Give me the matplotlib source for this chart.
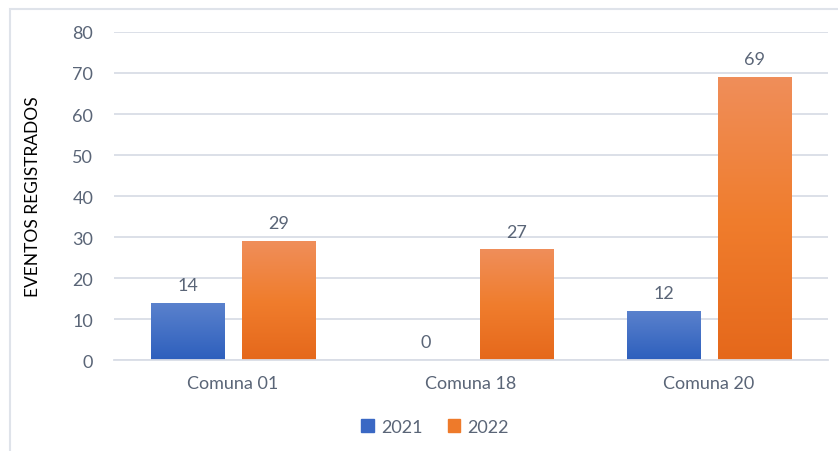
import numpy as np
import matplotlib.pyplot as plt
from matplotlib.colors import LinearSegmentedColormap
from matplotlib.patches import Rectangle

plt.rcParams['font.family'] = ['Lato', 'DejaVu Sans']

categories = ['Comuna 01', 'Comuna 18', 'Comuna 20']
years = ['2021', '2022']
values_2021 = [14, 0, 12]
values_2022 = [29, 27, 69]

grey_text = '#5a6577'
grid_col = '#d9dde6'

fig = plt.figure(figsize=(8.38, 4.52), dpi=100)
ax = fig.add_axes([0.136, 0.2013, 0.852, 0.7257])

# light frame like the office chart area
fig.patches.append(Rectangle((10 / 838, -0.1), 1.2, 1 - 10 / 452 + 0.1,
                             transform=fig.transFigure, fill=False,
                             edgecolor='#dfe3ea', lw=1.5))

x = np.arange(len(categories))
width = 0.307
off = 0.19

blue_cm = LinearSegmentedColormap.from_list('b', ['#2d5fbd', '#5b82cd'])
orange_cm = LinearSegmentedColormap.from_list('o', ['#e5681b', '#f07d2d', '#ef8e5a'])

def grad_bars(xs, vals, cmap, solid, label):
    bars = ax.bar(xs, vals, width, color=solid, label=label, zorder=2)
    grad = np.linspace(0, 1, 256).reshape(-1, 1)
    for b in bars:
        if b.get_height() <= 0:
            continue
        b.set_facecolor('none')
        im = ax.imshow(grad, cmap=cmap, aspect='auto', origin='lower',
                       extent=[b.get_x(), b.get_x() + b.get_width(), 0, b.get_height()],
                       zorder=2)
        im.set_clip_path(b)
    return bars

b1 = grad_bars(x - off, values_2021, blue_cm, '#3a68c4', '2021')
b2 = grad_bars(x + off, values_2022, orange_cm, '#ee7a2a', '2022')

for bars, vals in ((b1, values_2021), (b2, values_2022)):
    for b, v in zip(bars, vals):
        ax.annotate(str(v), (b.get_x() + b.get_width() / 2, v),
                    xytext=(0, 7), textcoords='offset points',
                    ha='center', va='bottom', fontsize=13, color=grey_text)

ax.set_xlim(-0.5, 2.5)
ax.set_ylim(0, 80)
ax.set_yticks(range(0, 81, 10))
ax.set_xticks(x)
ax.set_xticklabels(categories)
ax.tick_params(axis='both', length=0, labelsize=13, labelcolor=grey_text)
ax.tick_params(axis='y', pad=15)
ax.tick_params(axis='x', pad=11)
ax.grid(axis='y', color=grid_col, lw=1.3, zorder=0)
ax.set_axisbelow(True)
for s in ['top', 'right', 'left']:
    ax.spines[s].set_visible(False)
ax.spines['bottom'].set_color(grid_col)
ax.spines['bottom'].set_linewidth(1.3)

ax.set_ylabel('EVENTOS REGISTRADOS', fontsize=12.5, color='black')
ax.yaxis.set_label_coords(-0.102, 0.5)

leg = fig.legend(handles=[Rectangle((0, 0), 1, 1, color='#3a68c4'),
                          Rectangle((0, 0), 1, 1, color='#ee7a2a')],
                 labels=years, loc='center', bbox_to_anchor=(435 / 838, 1 - 428 / 452),
                 ncol=2, frameon=False, fontsize=13, handlelength=0.7, handleheight=0.7,
                 handletextpad=0.4, columnspacing=1.4)
for t in leg.get_texts():
    t.set_color(grey_text)

fig.savefig('out.png', dpi=100)
